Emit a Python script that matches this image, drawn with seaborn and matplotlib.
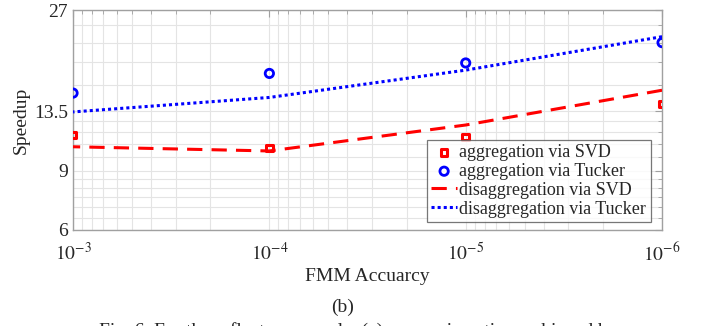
import matplotlib
matplotlib.use('Agg')
import matplotlib.pyplot as plt
import matplotlib.ticker as mticker
import seaborn as sns
import pandas as pd

# values
accuracy = [1e-3, 1e-4, 1e-5, 1e-6]
agg_svd = [11.5, 10.5, 11.35, 14.2]
agg_tucker = [15.3, 17.5, 18.8, 21.6]
disagg_svd = [10.6, 10.3, 12.3, 15.6]
disagg_tucker = [13.45, 14.85, 17.9, 22.5]

y_ticks = [6, 9, 13.5, 27]
y_tick_labels = ['6', '9', '13.5', '27']
y_minor = [6.5, 7, 7.5, 8, 8.5, 9.9, 10.8, 11.7, 12.6, 16.2, 18.9, 21.6, 24.3]
x_ticks = [1e-3, 1e-4, 1e-5, 1e-6]
x_tick_labels = ['$10^{-3}$', '$10^{-4}$', '$10^{-5}$', '$10^{-6}$']

df = pd.DataFrame({'acc': accuracy, 'agg_svd': agg_svd, 'agg_tucker': agg_tucker,
                   'disagg_svd': disagg_svd, 'disagg_tucker': disagg_tucker})

sns.set_style('white')
plt.rcParams['font.family'] = ['Liberation Serif', 'DejaVu Serif']
plt.rcParams['mathtext.fontset'] = 'stix'

fig = plt.figure(figsize=(7.07, 3.26), dpi=100)
ax = fig.add_axes([0.1033, 0.2945, 0.8331, 0.6748])

sns.scatterplot(data=df, x='acc', y='agg_svd', ax=ax, marker='s', s=22,
                facecolor='none', edgecolor='#ff0000', linewidth=2.2,
                label='aggregation via SVD', zorder=4)
sns.scatterplot(data=df, x='acc', y='agg_tucker', ax=ax, marker='o', s=36,
                facecolor='none', edgecolor='#0000ff', linewidth=2,
                label='aggregation via Tucker', zorder=4)
sns.lineplot(data=df, x='acc', y='disagg_svd', ax=ax, color='#ff0000',
             linewidth=2.2, dashes=(5, 3), label='disaggregation via SVD', zorder=3)
sns.lineplot(data=df, x='acc', y='disagg_tucker', ax=ax, color='#0000ff',
             linewidth=2.2, dashes=(1, 1), label='disaggregation via Tucker', zorder=3)

ax.set_xscale('log')
ax.set_yscale('log')
ax.set_xlim(1e-3, 1e-6)
ax.set_ylim(6, 27)

ax.set_xticks(x_ticks)
ax.set_xticklabels(x_tick_labels)
ax.xaxis.set_minor_locator(mticker.LogLocator(base=10, subs=range(2, 10)))
ax.xaxis.set_minor_formatter(mticker.NullFormatter())
ax.set_yticks(y_ticks)
ax.set_yticklabels(y_tick_labels)
ax.set_yticks(y_minor, minor=True)
ax.yaxis.set_minor_formatter(mticker.NullFormatter())

ax.grid(True, which='both', color='#e4e4e4', linewidth=0.8)
ax.set_axisbelow(True)
ax.tick_params(which='both', direction='in', top=True, right=True, color='#a0a0a0',
               labelsize=14, labelcolor='#262626')
ax.tick_params(which='major', length=5, width=0.8)
ax.tick_params(which='minor', length=3, width=0.6)
ax.tick_params(axis='x', pad=9)
for sp in ax.spines.values():
    sp.set_color('#a0a0a0')
    sp.set_linewidth(1)

ax.set_xlabel('FMM Accuarcy', fontsize=14, color='#262626', labelpad=2)
ax.set_ylabel('Speedup', fontsize=14, color='#262626', labelpad=3)

leg = ax.legend(loc='lower right', bbox_to_anchor=(0.981, 0.036), borderaxespad=0,
                fontsize=13, frameon=True, fancybox=False, handlelength=1.4,
                handletextpad=0.15, labelspacing=0.1, borderpad=0.25)
leg.get_frame().set_edgecolor('#555555')
leg.get_frame().set_linewidth(0.9)
for t in leg.get_texts():
    t.set_color('#262626')

fig.text(0.484, 0.042, '(b)', fontsize=14, color='#262626', ha='center')
# caption of the paper, cut off at the bottom edge as in the reference
fig.text(0.14, -0.03, 'Fig. 6. For the reflector example, (a) comparison time achieved by',
         fontsize=14, color='#262626', ha='left')

fig.savefig('out.png', dpi=100)
